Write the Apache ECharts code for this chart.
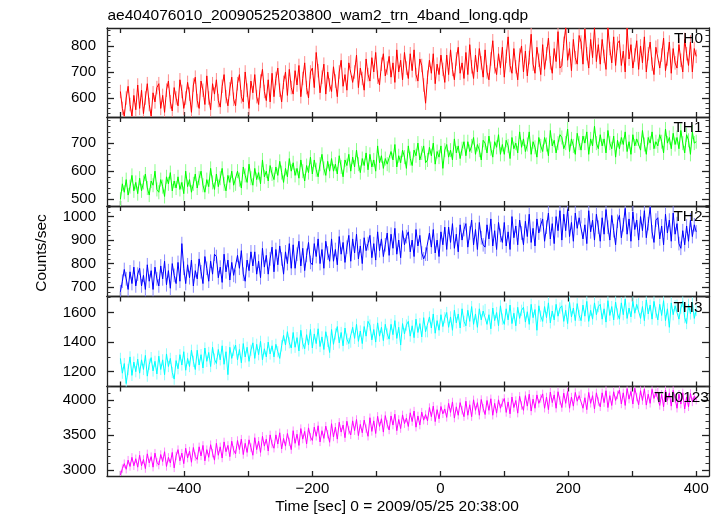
<!DOCTYPE html>
<html>
<head>
<meta charset="utf-8">
<script src="https://cdn.jsdelivr.net/npm/echarts@6/dist/echarts.min.js"></script>
<style>
html,body{margin:0;padding:0;background:#fff;}
#chart{width:723px;height:516px;}
</style>
</head>
<body>
<div id="chart"></div>
<script>
// ---- data (time = -500 + 3*k seconds, k = 0..300) ----
const T0 = -500, STEP = 3;
const titleText = 'ae404076010_20090525203800_wam2_trn_4band_long.qdp';
const xName = 'Time [sec] 0 = 2009/05/25 20:38:00';
const yName = 'Counts/sec';
const panelNames = ['TH0', 'TH1', 'TH2', 'TH3', 'TH0123'];
const xTickValues = [-500, -400, -300, -200, -100, 0, 100, 200, 300, 400];
const xLabelValues = [-400, -200, 0, 200, 400];
const yLabelValues = [[600, 700, 800], [500, 600, 700], [700, 800, 900, 1000], [1200, 1400, 1600], [3000, 3500, 4000]];
const yMinorStep = [20, 20, 20, 100, 100];
const yMin = [527, 476, 660, 1100, 2914];
const yMax = [869, 793, 1045, 1708, 4190];
// typical 1-sigma error bar of each band (counts/sec)
const errors = [26, 25, 29, 38, 60];

const th0 = [
625,560,530,600,645,575,530,610,555,650,
560,630,540,600,655,575,530,620,585,640,
655,560,610,545,630,665,585,550,640,600,
570,670,625,560,600,660,615,545,650,680,
590,560,665,630,575,685,600,555,655,615,
670,590,565,645,690,605,570,635,680,595,
570,655,690,605,585,700,630,560,665,620,
690,605,575,665,710,625,590,670,585,695,
605,675,715,630,585,660,700,610,710,640,
615,705,650,725,605,675,735,640,600,700,
715,640,775,705,620,680,730,615,700,650,
625,720,665,605,700,745,645,690,630,735,
740,660,700,765,640,715,675,630,750,690,
665,755,700,775,680,650,730,770,685,715,
760,680,735,660,785,700,745,670,775,715,
675,770,705,785,690,665,750,725,650,580,
680,745,695,770,655,730,690,765,710,660,
765,690,785,710,670,750,795,695,735,675,
775,690,805,720,675,765,700,790,735,680,
785,700,670,750,820,720,690,770,715,795,
680,760,835,725,695,790,720,670,765,800,
700,780,685,755,845,730,695,795,745,690,
805,710,770,830,735,695,790,740,855,715,
725,810,870,745,790,705,825,755,730,840,
815,730,865,770,715,825,755,870,740,805,
730,825,760,710,870,790,735,835,725,810,
820,725,780,700,868,750,805,715,765,820,
710,800,735,835,700,770,815,730,690,795,
800,715,765,830,705,750,815,695,790,735,
715,805,745,700,825,770,725,815,700,790,
760];
const th1 = [
500,555,525,570,515,545,585,530,560,520,
575,530,560,590,540,515,565,550,600,535,
525,570,545,510,580,555,595,530,565,540,
580,535,560,520,600,545,570,525,555,590,
540,575,600,550,525,570,545,610,560,535,
590,545,575,610,555,530,585,560,600,550,
555,600,570,540,615,585,560,625,575,550,
610,570,595,555,640,580,600,565,620,590,
570,615,585,635,595,560,610,580,645,600,
630,585,610,575,640,600,565,620,595,650,
590,640,605,580,625,660,610,585,635,600,
645,600,625,590,655,615,580,640,620,660,
600,650,615,675,625,595,645,620,665,605,
660,615,640,600,690,630,655,610,645,625,
620,670,640,695,615,655,630,675,650,610,
690,645,620,675,655,700,640,665,690,630,
640,685,655,700,625,670,650,690,610,675,
695,650,675,640,715,665,690,645,680,705,
655,705,670,690,720,660,695,675,640,710,
700,665,725,680,650,705,685,730,660,695,
660,710,690,645,720,680,700,665,740,685,
715,670,695,740,660,705,685,650,720,690,
670,720,695,655,745,690,710,665,700,730,
720,680,700,750,670,715,690,660,735,700,
675,725,700,740,660,715,690,760,700,680,
730,690,715,665,745,700,680,725,650,710,
680,720,695,740,670,705,660,730,690,715,
715,675,745,695,660,720,700,740,680,705,
690,730,705,665,750,700,720,680,735,695,
720,680,745,700,665,730,710,660,740,700,
705];
const th2 = [
680,725,775,735,690,765,715,785,705,755,
780,705,750,690,795,725,770,690,785,735,
705,790,735,810,710,770,695,800,750,715,
805,725,885,780,715,795,740,815,705,770,
735,820,765,715,830,780,725,810,755,840,
830,740,785,720,840,765,815,730,805,750,
745,835,780,855,755,725,815,770,850,790,
850,755,810,740,865,785,835,755,820,870,
765,860,795,875,820,755,850,800,885,780,
880,780,840,895,790,865,770,835,890,805,
795,885,830,905,800,860,780,895,845,810,
905,810,860,795,915,840,890,805,870,920,
810,905,845,925,820,875,800,910,855,885,
920,825,885,815,935,855,905,830,880,930,
835,925,865,950,840,900,825,940,880,915,
935,850,900,830,945,875,920,845,820,840,
840,930,870,945,845,900,830,935,880,955,
860,955,890,970,865,925,850,965,900,945,
970,870,930,985,880,945,860,975,910,880,
870,965,905,990,875,940,860,975,920,890,
975,875,935,860,1000,910,960,880,985,930,
880,980,915,1010,890,950,875,990,930,965,
990,895,955,1015,905,970,885,1000,940,1025,
900,1010,940,1030,915,975,895,1015,950,995,
1000,905,965,885,1025,935,985,900,1010,955,
895,995,925,1030,955,900,1005,940,880,980,
1005,910,965,1035,925,990,895,1020,945,985,
900,1000,940,1025,910,970,1040,935,890,985,
995,905,960,880,1010,930,985,895,1015,925,
970,885,865,940,880,960,895,985,915,965,
935];
const th3 = [
1290,1190,1255,1120,1215,1300,1175,1265,1200,1285,
1190,1280,1215,1310,1170,1250,1295,1205,1270,1185,
1305,1215,1280,1180,1320,1235,1290,1195,1150,1275,
1220,1315,1245,1335,1210,1290,1235,1345,1270,1215,
1345,1245,1315,1225,1360,1270,1330,1235,1365,1285,
1255,1350,1280,1375,1250,1335,1180,1365,1290,1345,
1380,1280,1350,1260,1390,1300,1365,1270,1345,1395,
1290,1385,1315,1405,1280,1355,1300,1400,1320,1375,
1300,1385,1335,1290,1375,1445,1380,1470,1395,1360,
1465,1365,1430,1340,1480,1390,1355,1450,1380,1485,
1360,1455,1390,1490,1370,1435,1350,1470,1405,1330,
1485,1385,1455,1505,1395,1465,1375,1495,1420,1390,
1400,1500,1425,1520,1405,1475,1390,1505,1440,1540,
1515,1415,1485,1400,1530,1440,1500,1410,1520,1455,
1420,1520,1450,1545,1425,1500,1380,1525,1455,1515,
1540,1440,1510,1430,1555,1465,1525,1435,1565,1470,
1470,1570,1495,1590,1460,1545,1480,1585,1505,1565,
1600,1500,1570,1480,1615,1530,1590,1495,1625,1540,
1510,1615,1540,1640,1520,1590,1500,1625,1550,1610,
1620,1520,1585,1490,1630,1545,1600,1510,1645,1555,
1520,1625,1550,1650,1525,1595,1510,1635,1560,1615,
1635,1535,1605,1520,1655,1565,1620,1480,1645,1575,
1540,1640,1565,1665,1530,1610,1550,1655,1575,1630,
1645,1540,1615,1525,1670,1570,1630,1545,1660,1580,
1545,1650,1575,1675,1540,1615,1555,1665,1585,1640,
1655,1555,1625,1535,1680,1580,1640,1550,1670,1590,
1555,1665,1585,1690,1560,1630,1570,1675,1595,1655,
1660,1560,1640,1545,1685,1590,1650,1555,1675,1600,
1550,1655,1580,1680,1545,1625,1500,1665,1585,1645,
1650,1555,1630,1675,1565,1525,1655,1590,1665,1560,
1615];
const th0123 = [
2930,3020,3090,3010,3140,3050,3180,3060,3160,3040,
3210,3060,3150,3020,3230,3100,3190,3040,3240,3110,
3070,3220,3120,3260,3050,3180,3100,3250,3030,3200,
3290,3130,3240,3090,3310,3170,3270,3110,3320,3190,
3150,3330,3200,3350,3130,3290,3180,3360,3240,3140,
3380,3210,3330,3170,3400,3260,3350,3190,3410,3280,
3230,3420,3290,3440,3220,3380,3250,3430,3320,3210,
3460,3290,3410,3250,3480,3340,3440,3270,3500,3370,
3310,3500,3370,3530,3300,3450,3340,3520,3400,3290,
3560,3380,3510,3350,3590,3440,3550,3370,3600,3470,
3420,3610,3480,3630,3400,3560,3450,3625,3510,3395,
3660,3470,3610,3440,3680,3540,3640,3460,3695,3565,
3500,3700,3560,3720,3490,3650,3530,3710,3590,3480,
3745,3550,3700,3520,3765,3620,3730,3540,3775,3650,
3570,3770,3640,3795,3560,3720,3590,3785,3660,3740,
3620,3815,3690,3840,3610,3770,3640,3825,3710,3790,
3700,3890,3760,3910,3690,3860,3730,3905,3800,3870,
3750,3950,3820,3970,3740,3900,3780,3960,3850,3760,
3980,3780,3930,3760,4000,3850,3960,3780,4005,3880,
3790,3990,3850,4015,3780,3950,3810,4000,3880,3960,
4020,3820,3970,3800,4040,3890,3990,3810,4050,3920,
3850,4060,3910,4080,3840,4010,3880,4070,3950,4020,
4085,3880,4040,3860,4110,3960,4070,3880,4115,3990,
3890,4095,3950,4120,3880,4040,3910,4105,3980,4060,
4085,3880,4030,3860,4105,3950,4060,3870,4100,3975,
3900,4100,3960,4130,3890,4060,3920,4115,3990,4070,
4140,3940,4100,3920,4160,4010,4120,3940,4165,4040,
3930,4130,3990,4155,3925,4080,3950,4150,4020,4100,
4120,3920,4080,3900,4140,3990,4100,3910,4135,4020,
3880,4080,3940,4100,3870,4040,3900,4090,3970,4050,
3995];
const seriesData = [th0, th1, th2, th3, th0123];
const colors = ['#ff0000', '#00ff00', '#0000ff', '#00ffff', '#ff00ff'];
const errColors = ['#ff8a8a', '#8aff8a', '#8a8aff', '#8affff', '#ff8aff'];

// ---- layout ----
const FONT = 'Liberation Sans, Arial, Helvetica, sans-serif';
const gridTops = [28, 117, 206, 296.5, 386.5];
const gridHeights = [89, 89, 90.5, 90, 89.5];
const GL = 107, GW = 602;
const XMIN = -521, XMAX = 420;
const axisLineStyle = { color: '#222', width: 1.3 };
const numFmt = v => String(v).replace('-', '\u2212');

const grids = [], xAxes = [], yAxes = [], series = [];
for (let i = 0; i < 5; i++) {
  grids.push({ left: GL, top: gridTops[i], width: GW, height: gridHeights[i] });
  ['bottom', 'top'].forEach(pos => {
    xAxes.push({
      gridIndex: i, type: 'value', position: pos, min: XMIN, max: XMAX,
      axisLine: { show: true, onZero: false, lineStyle: axisLineStyle },
      axisTick: { show: true, inside: true, length: 5, customValues: xTickValues, lineStyle: axisLineStyle },
      axisLabel: { show: (i === 4 && pos === 'bottom'), customValues: xLabelValues, formatter: numFmt,
        color: '#000', fontSize: 15, fontFamily: FONT, margin: 5 },
      splitLine: { show: false }
    });
  });
  const minors = [];
  const st = yMinorStep[i];
  for (let v = Math.ceil(yMin[i] / st) * st; v <= yMax[i]; v += st) {
    if (yLabelValues[i].indexOf(v) < 0) minors.push(v);
  }
  ['left', 'right'].forEach(pos => {
    yAxes.push({
      gridIndex: i, type: 'value', position: pos, min: yMin[i], max: yMax[i],
      axisLine: { show: true, onZero: false, lineStyle: axisLineStyle },
      axisTick: { show: true, inside: true, length: 7, customValues: yLabelValues[i], lineStyle: axisLineStyle },
      axisLabel: { show: pos === 'left', customValues: yLabelValues[i], formatter: numFmt,
        color: '#000', fontSize: 15, fontFamily: FONT, margin: 11 },
      splitLine: { show: false }
    });
    yAxes.push({
      gridIndex: i, type: 'value', position: pos, min: yMin[i], max: yMax[i],
      axisLine: { show: false, onZero: false },
      axisTick: { show: true, inside: true, length: 3.5, customValues: minors, lineStyle: { color: '#333', width: 1 } },
      axisLabel: { show: false },
      splitLine: { show: false }
    });
  });
  const pts = seriesData[i].map((v, k) => [T0 + k * STEP, v]);
  const err = errors[i];
  // error bars (lighter shade)
  series.push({
    type: 'custom', xAxisIndex: i * 2, yAxisIndex: i * 4, data: pts, animation: false, z: 1,
    silent: true,
    renderItem: function (params, api) {
      const cs = params.coordSys;
      const x = api.value(0), v = api.value(1);
      const p1 = api.coord([x, v + err]);
      const p2 = api.coord([x, v - err]);
      const top = Math.max(cs.y, p1[1]);
      const bot = Math.min(cs.y + cs.height, p2[1]);
      if (bot <= top) return null;
      return { type: 'line', shape: { x1: p1[0], y1: top, x2: p2[0], y2: bot },
        style: { stroke: errColors[i], lineWidth: 1 } };
    }
  });
  series.push({
    type: 'line', xAxisIndex: i * 2, yAxisIndex: i * 4,
    data: pts,
    showSymbol: false, symbol: 'none', smooth: false, sampling: null,
    lineStyle: { color: colors[i], width: 1 },
    itemStyle: { color: colors[i] },
    animation: false, z: 2
  });
}

const graphics = [
  { type: 'text', x: 107.5, y: 15.5, style: { text: titleText, fill: '#000', font: '15.5px ' + FONT, align: 'left', verticalAlign: 'middle' } },
  { type: 'text', x: 397, y: 507, style: { text: xName, fill: '#000', font: '15.5px ' + FONT, align: 'center', verticalAlign: 'middle' } },
  { type: 'text', x: 42, y: 253, rotation: Math.PI / 2, style: { text: yName, fill: '#000', font: '15.5px ' + FONT, align: 'center', verticalAlign: 'middle' } }
];
const labelLeft = [674, 673.5, 673.5, 673.5, 654.3];
const labelY = [38.7, 127.5, 216.5, 307.5, 397.5];
for (let i = 0; i < 5; i++) {
  graphics.push({ type: 'text', x: labelLeft[i], y: labelY[i], z: 10,
    style: { text: panelNames[i], fill: '#000', font: '15.3px ' + FONT, align: 'left', verticalAlign: 'middle' } });
}

const chart = echarts.init(document.getElementById('chart'), null, { renderer: 'canvas' });
chart.setOption({
  backgroundColor: '#fff',
  animation: false,
  grid: grids, xAxis: xAxes, yAxis: yAxes, series: series,
  graphic: graphics
});
</script>
</body>
</html>
